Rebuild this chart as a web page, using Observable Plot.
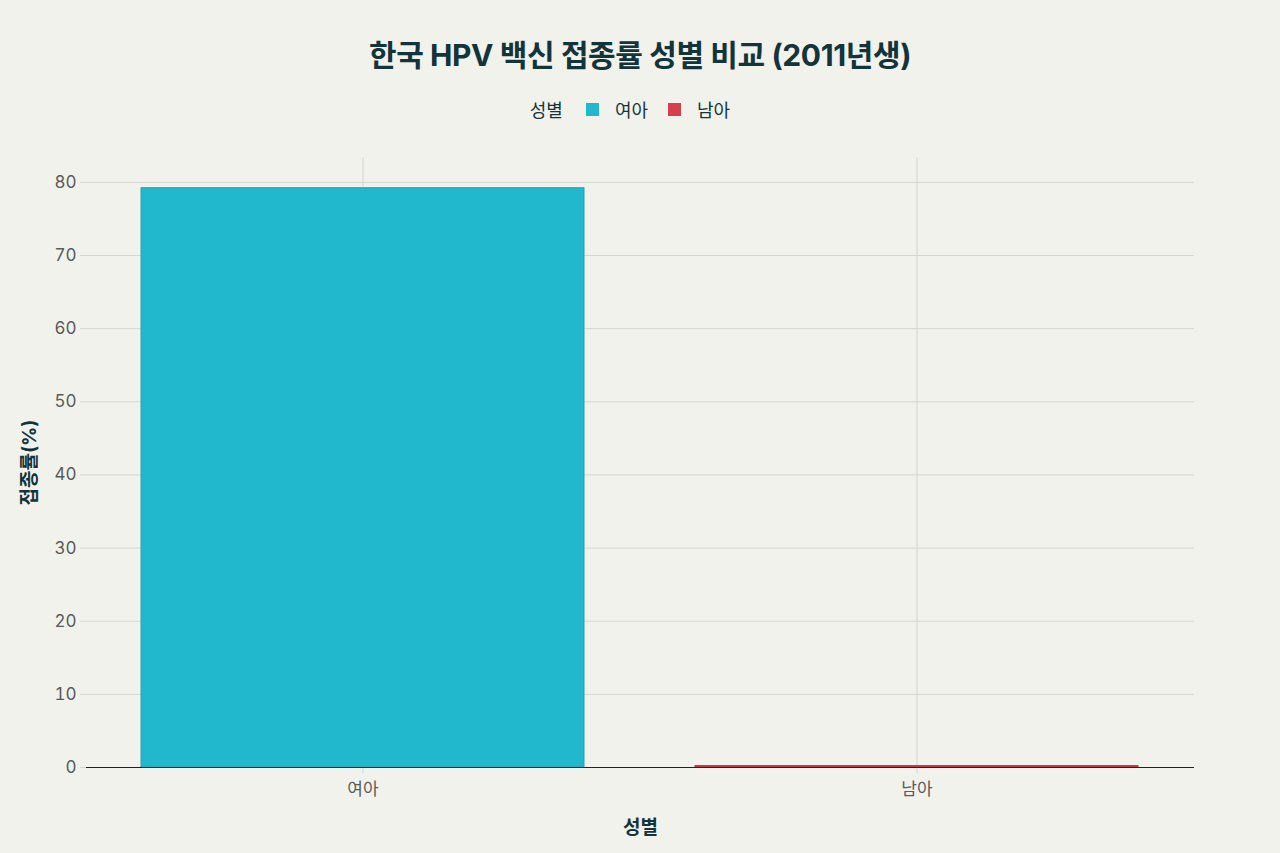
<!DOCTYPE html>
<html>
<head>
<meta charset="utf-8">
<script src="https://cdn.jsdelivr.net/npm/d3@7"></script>
<script src="https://cdn.jsdelivr.net/npm/@observablehq/plot@0.6"></script>
<style>
  html, body { margin: 0; padding: 0; background: #f2f2ed; }
  body { width: 1280px; height: 853px; overflow: hidden; font-family: Inter, "Noto Sans CJK KR", "Noto Sans", sans-serif; }
  #head { height: 140px; position: relative; }
  #title { position: absolute; top: 31px; left: 0; width: 1280px; text-align: center; font-size: 30px; font-weight: 700; color: #13343b; letter-spacing: -0.4px; }
  #legend { position: absolute; top: 96px; left: 0; width: 1280px; display: flex; justify-content: center; align-items: center; font-size: 18px; color: #13343b; }
  #legend .ttl { margin-right: 23px; }
  #legend .sw { width: 13px; height: 13px; display: inline-block; margin-right: 16px; }
  #legend .it { margin-right: 20px; display: flex; align-items: center; }
  svg g[aria-label="y-axis label"] text, svg g[aria-label="x-axis label"] text { font-weight: 700; fill: #13343b; font-size: 19px; }
</style>
</head>
<body>
<div id="head">
  <div id="title">한국 HPV 백신 접종률 성별 비교 (2011년생)</div>
  <div id="legend"></div>
</div>
<div id="chart"></div>
<script>
const categories = ["여아", "남아"];
const rates = [79.2, 0.2];
const colors = ["#21b7cc", "#d5404a"];
const strokeColors = ["#1fa3b5", "#b83a42"];
const yTicks = [0, 10, 20, 30, 40, 50, 60, 70, 80];
const legendTitle = "성별";
const xLabel = "성별";
const yLabel = "접종률(%)";

const data = categories.map((c, i) => ({gender: c, rate: rates[i]}));

// legend
const leg = document.getElementById("legend");
const t = document.createElement("span");
t.className = "ttl"; t.textContent = legendTitle; leg.appendChild(t);
categories.forEach((c, i) => {
  const it = document.createElement("span"); it.className = "it";
  const sw = document.createElement("span"); sw.className = "sw"; sw.style.background = colors[i];
  const lb = document.createElement("span"); lb.textContent = c;
  it.appendChild(sw); it.appendChild(lb); leg.appendChild(it);
});

const chart = Plot.plot({
  width: 1280,
  height: 713,
  marginTop: 17,
  marginBottom: 86,
  marginLeft: 86,
  marginRight: 86,
  style: { background: "transparent", fontFamily: "Inter, 'Noto Sans CJK KR', sans-serif", fontSize: "17px", color: "#555" },
  x: { domain: categories, paddingInner: 0.2, paddingOuter: 0.1, label: null },
  y: { domain: [0, 83.4], label: null },
  color: { domain: categories, range: colors },
  marks: [
    Plot.gridY(yTicks, { stroke: "#d6d6d0", strokeOpacity: 1, strokeWidth: 1 }),
    Plot.gridX(categories, { stroke: "#d6d6d0", strokeOpacity: 1, strokeWidth: 1 }),
    Plot.axisY(yTicks, { tickSize: 6, tickPadding: 4, stroke: "#d6d6d0", fill: "#5a5a5a", fontSize: 17,
      label: yLabel, labelAnchor: "center", labelOffset: 64, labelArrow: "none" }),
    Plot.axisX(categories, { tickSize: 6, tickPadding: 9, stroke: "#d6d6d0", fill: "#5a5a5a", fontSize: 17,
      label: xLabel, labelAnchor: "center", labelOffset: 66, labelArrow: "none" }),
    Plot.barY(data, { x: "gender", y: "rate", fill: "gender",
      stroke: d => strokeColors[categories.indexOf(d.gender)], strokeWidth: 1 }),
    Plot.ruleY([0], { stroke: "#222", strokeWidth: 1.2 })
  ]
});
document.getElementById("chart").appendChild(chart);
</script>
</body>
</html>
